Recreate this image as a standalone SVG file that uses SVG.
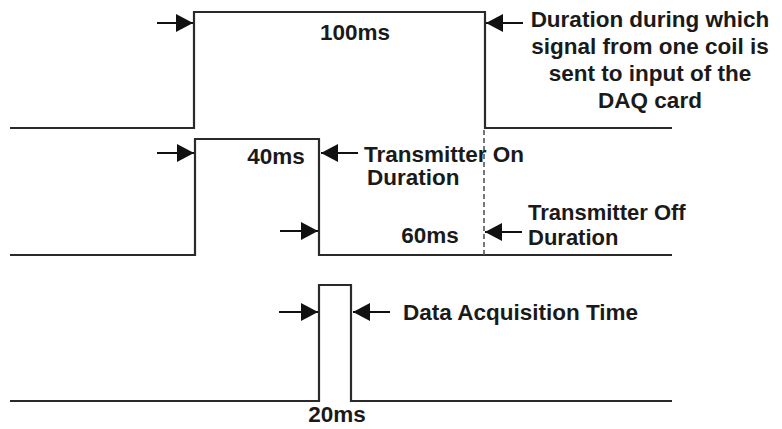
<svg xmlns="http://www.w3.org/2000/svg" width="782" height="429" viewBox="0 0 782 429">
<style>
.sig{fill:none;stroke:#2a2a2a;stroke-width:2.2}
.arr{fill:none;stroke:#111;stroke-width:2;marker-end:url(#ah)}
.dash{fill:none;stroke:#555;stroke-width:1.6;stroke-dasharray:5,3}
text{font-family:"Liberation Sans",Arial,sans-serif;font-weight:bold;font-size:22.5px;fill:#1a1a1a}
.mid{text-anchor:middle}
.sm{font-size:22px}
</style>
<defs>
<marker id="ah" markerUnits="userSpaceOnUse" viewBox="0 0 17 18" markerWidth="17" markerHeight="18" refX="17" refY="9" orient="auto">
<path d="M0,0 L17,9 L0,18 z" fill="#111"/>
</marker>
</defs>
<rect width="782" height="429" fill="#fff"/>
<g id="signal1">
<path class="sig" d="M10,128 H194 V12 H485 V128 H672"/>
</g>
<g id="signal2">
<path class="sig" d="M10,255 H195 V139 H319 V255 H672"/>
</g>
<g id="signal3">
<path class="sig" d="M10,401 H319 V285 H351 V401 H672"/>
</g>
<g id="connectors">
<line class="dash" x1="484" y1="130" x2="484" y2="258"/>
<line class="arr" x1="157" y1="23" x2="193" y2="23"/>
<line class="arr" x1="523" y1="23" x2="486" y2="23"/>
<line class="arr" x1="157" y1="153" x2="194" y2="153"/>
<line class="arr" x1="358" y1="153" x2="321" y2="153"/>
<line class="arr" x1="280" y1="231" x2="318" y2="231"/>
<line class="arr" x1="522" y1="232" x2="485" y2="232"/>
<line class="arr" x1="279" y1="312" x2="318" y2="312"/>
<line class="arr" x1="390" y1="312" x2="353" y2="312"/>
</g>
<g id="label-100ms"><text x="355" y="40" class="mid">100ms</text></g>
<g id="label-duration">
<text class="mid"><tspan x="650" y="27">Duration during which</tspan><tspan x="650" y="54">signal from one coil is</tspan><tspan x="650" y="81">sent to input of the</tspan><tspan x="650" y="108">DAQ card</tspan></text>
</g>
<g id="label-40ms"><text x="276" y="164" class="mid">40ms</text></g>
<g id="label-tx-on">
<text><tspan x="364" y="162">Transmitter On</tspan><tspan x="367" y="185">Duration</tspan></text>
</g>
<g id="label-60ms"><text x="430" y="243" class="mid">60ms</text></g>
<g id="label-tx-off">
<text class="sm"><tspan x="528" y="220">Transmitter Off</tspan><tspan x="528" y="245">Duration</tspan></text>
</g>
<g id="label-daq"><text x="403" y="320">Data Acquisition Time</text></g>
<g id="label-20ms"><text x="337" y="422" class="mid">20ms</text></g>
</svg>
